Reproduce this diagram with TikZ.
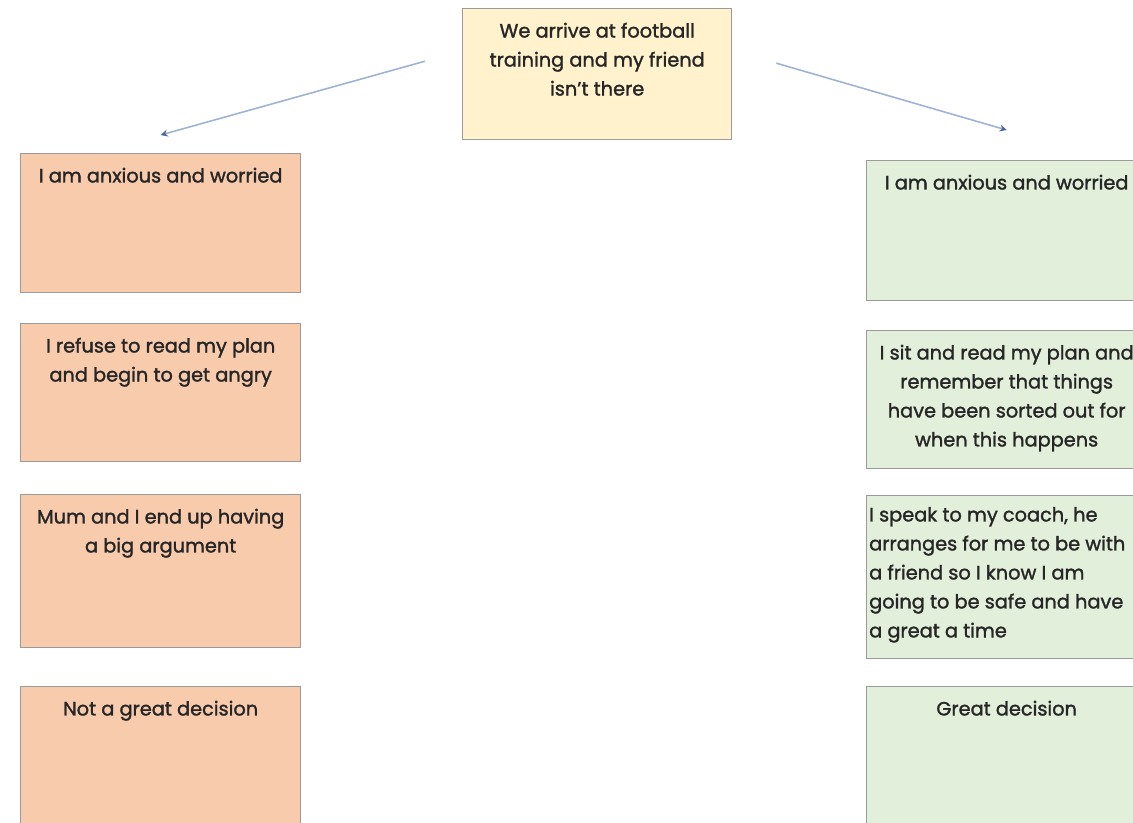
\documentclass[tikz,border=0pt]{standalone}
\usepackage{fontspec}
\setmainfont{Poppins}
\usetikzlibrary{arrows.meta}
\definecolor{topfill}{HTML}{FFF2CC}
\definecolor{badfill}{HTML}{F8CBAD}
\definecolor{goodfill}{HTML}{E2EFDA}
\definecolor{edgecol}{HTML}{9A9A9A}
\definecolor{linkcol}{HTML}{9FB2D3}
\definecolor{tipcol}{HTML}{4A6A9E}
\tikzset{
  card/.style={draw=edgecol, line width=0.8pt, inner sep=0pt, anchor=north west,
    text=black!85, font=\fontsize{11}{16.5}\selectfont\addfontfeatures{FakeBold=1.5}},
  bad/.style={card, fill=badfill},
  good/.style={card, fill=goodfill},
  link/.style={draw=linkcol, line width=0.9pt, -{Stealth[length=4pt,width=4pt,color=tipcol]}}
}
\newcommand{\cardtext}[3]{\parbox[t][#1][t]{#2}{\vspace*{8pt}\centering #3}}
\newcommand{\cardleft}[3]{\parbox[t][#1][t]{#2}{\vspace*{6.5pt}\raggedright\leftskip=0.05cm #3}}
\begin{document}
\begin{tikzpicture}[x=0.02cm, y=-0.02cm]
  \useasboundingbox (0,0) rectangle (1133,822);
  \clip (0,0) rectangle (1133,822);

  % starting situation
  \node[card, fill=topfill] (top) at (462,8)
    {\cardtext{2.62cm}{5.38cm}{We arrive at football\\ training and my friend\\ isn't there}};

  % left column
  \node[bad] (L1) at (20,153) {\cardtext{2.78cm}{5.6cm}{I am anxious and worried}};
  \node[bad] (L2) at (20,323) {\cardtext{2.76cm}{5.6cm}{I refuse to read my plan\\ and begin to get angry}};
  \node[bad] (L3) at (20,494) {\cardtext{3.06cm}{5.6cm}{Mum and I end up having\\ a big argument}};
  \node[bad] (L4) at (20,686) {\cardtext{3cm}{5.6cm}{Not a great decision}};

  % right column
  \node[good] (R1) at (866,160) {\cardtext{2.8cm}{5.6cm}{I am anxious and worried}};
  \node[good] (R2) at (866,330) {\cardtext{2.76cm}{5.6cm}{I sit and read my plan and\\ remember that things\\ have been sorted out for\\ when this happens}};
  \node[good] (R3) at (866,495) {\cardleft{3.26cm}{5.6cm}{I speak to my coach, he\\ arranges for me to be with\\ a friend so I know I am\\ going to be safe and have\\ a great a time}};
  \node[good] (R4) at (866,686) {\cardtext{3cm}{5.6cm}{Great decision}};

  \draw[link] ([shift={(-37,-13)}]top.west) -- ([yshift=0.36cm]L1.north);
  \draw[link] ([shift={(44,-11)}]top.east) -- ([yshift=0.6cm]R1.north);
\end{tikzpicture}
\end{document}
